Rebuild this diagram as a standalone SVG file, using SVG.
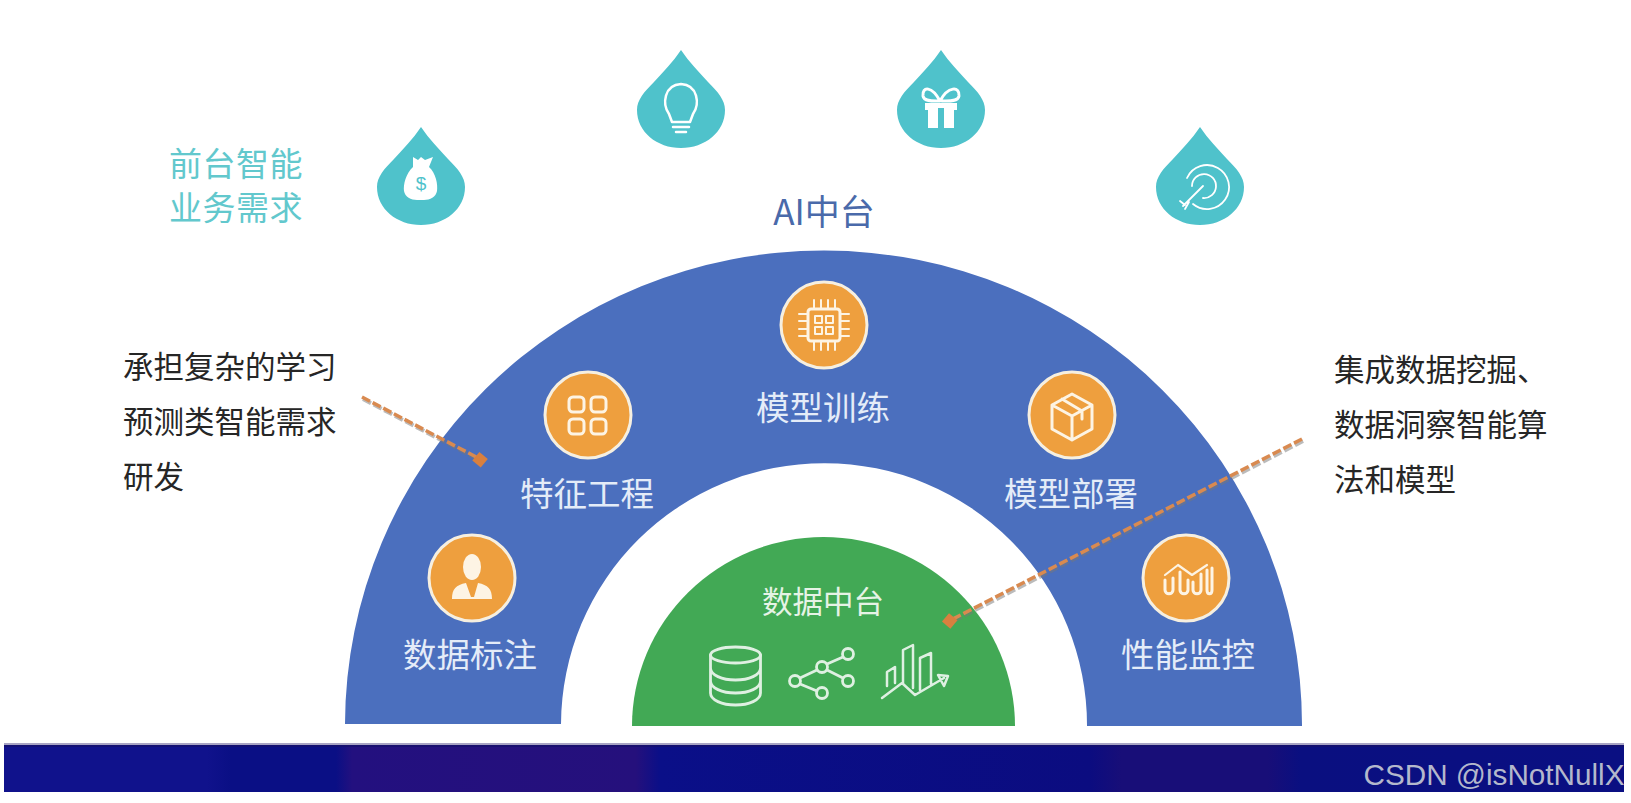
<svg xmlns="http://www.w3.org/2000/svg" width="1631" height="803" viewBox="0 0 1631 803">
<style>
text{font-family:"Noto Sans CJK SC","Noto Sans",sans-serif;text-anchor:middle}
.lbl{font-size:33.500px;fill:#e4ecf8}
.teal{font-size:33px;fill:#62c8cd;letter-spacing:0.5px}
.blk{font-size:30.500px;fill:#262626;text-anchor:start}
.w{fill:none;stroke:#fff;stroke-width:2.500;stroke-linecap:round;stroke-linejoin:round}
.wt{fill:none;stroke:#dff0e2;stroke-width:2.800;stroke-linecap:round;stroke-linejoin:round}
.o{fill:#ee9f3e;stroke:#f6efe0;stroke-width:3}
.oi{fill:none;stroke:#fdf4e4;stroke-width:3;stroke-linecap:round;stroke-linejoin:round}
.oif{fill:#fdf4e4}
.dash{fill:none;stroke:#d98a50;stroke-width:3.500;stroke-dasharray:9 3}
.dashs{fill:none;stroke:#777;stroke-opacity:.5;stroke-width:4;stroke-dasharray:9 3}
</style>
<defs>
<path id="drop" d="M0,0C8,12 18,22 27,32C37,42 44,50 44,60C44,82 24,98 0,98C-24,98 -44,82 -44,60C-44,50 -37,42 -27,32C-18,22 -8,12 0,0Z" fill="#4fc2cb"/>
<linearGradient id="band" x1="0" x2="1" y1="0" y2="0">
<stop offset="0" stop-color="#10128c"/><stop offset=".125" stop-color="#10128c"/><stop offset=".14" stop-color="#0a0f85"/><stop offset=".205" stop-color="#0a0f85"/><stop offset=".215" stop-color="#23107f"/><stop offset=".39" stop-color="#25107c"/><stop offset=".405" stop-color="#0a0f88"/><stop offset=".67" stop-color="#0b0c80"/><stop offset=".69" stop-color="#180e78"/><stop offset=".78" stop-color="#180e78"/><stop offset=".8" stop-color="#0a0f80"/><stop offset="1" stop-color="#0a0f82"/>
</linearGradient>
</defs>
<rect width="1631" height="803" fill="#fff"/>
<g id="band-strip"><rect x="4" y="743" width="1620" height="49" fill="url(#band)"/><rect x="4" y="743" width="1620" height="2" fill="#a8a4c4"/><rect x="4" y="745" width="1620" height="2" fill="#14106a" opacity=".7"/>
<text x="1494" y="785" style="font-family:'Liberation Sans',sans-serif;font-size:30px;fill:#b4b8cc" textLength="261" lengthAdjust="spacingAndGlyphs">CSDN @isNotNullX</text></g>

<g id="ai-platform"><path d="M345,724A478,474 0 0 1 1302,726L1087,726A262,261 0 0 0 561,724Z" fill="#4b6fbe"/>
<text x="824" y="225" style="font-size:35px;fill:#4a6aaa">AI中台</text></g>

<g id="data-platform"><path d="M632,726A191.500,189 0 0 1 1015,726Z" fill="#42a955"/>
<text x="823" y="613" style="font-size:30.500px;fill:#e6f3e6">数据中台</text>
<g id="icon-db" class="wt"><ellipse cx="735.500" cy="655" rx="25" ry="8"/><path d="M710.500,655V693C710.500,700 722,705 735.500,705S760.500,700 760.500,693V655M710.500,668C710.500,675 722,680 735.500,680S760.500,675 760.500,668M710.500,681C710.500,688 722,693 735.500,693S760.500,688 760.500,681"/></g>
<g id="icon-share" class="wt"><circle cx="822" cy="667" r="5.500"/><circle cx="848" cy="654" r="5.500"/><circle cx="848" cy="681" r="5.500"/><circle cx="795" cy="681" r="5.500"/><circle cx="822" cy="693" r="5.500"/><path d="M827,664L843,657M827,670L843,678M817,670L800,678M800,684L817,691"/></g>
<g id="icon-chart" class="wt" style="stroke-width:2.500"><path d="M882,698L902,683L915,695L944,678M887,686V672L895,667V683M903,683V650L913,645V688M920,690V658L931,653V684M938,675L948,676L944,686Z"/></g></g>

<g id="front-label"><text class="teal" x="236" y="176">前台智能</text><text class="teal" x="236" y="220">业务需求</text></g>
<g id="drop-money"><use href="#drop" x="421" y="127"/><path fill="#fff" d="M413,157L418,160L421,157L425,160L433,157L429,167C436,173 438,185 437,191C436,197 430,200 424,200H417C411,200 405,197 404,191C403,185 406,173 413,167Z"/><text x="421" y="190" style="font-family:'Liberation Sans',sans-serif;font-size:19px;fill:#4fc2cb">$</text></g>
<g id="drop-bulb"><use href="#drop" x="681" y="50"/><path class="w" d="M672,122L669,114C662,104 664,85 681,84C698,85 700,104 693,114L690,122ZM672,122H690M673,127H689M676,132H686"/></g>
<g id="drop-gift"><use href="#drop" x="941" y="50"/><path fill="#fff" d="M925,103H957V110H954V128H928V110H925Z"/><rect x="938" y="108" width="6" height="20" fill="#4fc2cb"/><path class="w" style="stroke-width:3" d="M940,101C932,86 922,86 923,96C924,102 934,101 940,101C948,86 960,86 959,96C958,102 948,101 942,101"/></g>
<g id="drop-target"><use href="#drop" x="1200" y="127"/><path class="w" style="stroke-width:1.800" d="M1187,178A22,22 0 1 1 1193,204M1192,186A12,12 0 1 1 1203,198M1203,186L1183,206M1180,201L1185,205M1185,209L1189,202"/></g>

<g id="node-train"><circle class="o" cx="824" cy="325" r="43"/><rect class="oi" x="808" y="309" width="32" height="32" rx="3"/><path class="oi" style="stroke-width:2" d="M814,300V309M821,300V309M828,300V309M835,300V309M814,341V350M821,341V350M828,341V350M835,341V350M799,314H808M799,321H808M799,329H808M799,336H808M840,314H849M840,321H849M840,329H849M840,336H849M815,316H822V323H815ZM826,316H833V323H826ZM815,327H822V334H815ZM826,327H833V334H826Z"/><text class="lbl" x="823" y="420">模型训练</text></g>
<g id="node-feature"><circle class="o" cx="588" cy="415" r="43"/><rect class="oi" x="569" y="397" width="15" height="15" rx="4"/><rect class="oi" x="591" y="397" width="15" height="15" rx="4"/><rect class="oi" x="569" y="419" width="15" height="15" rx="4"/><rect class="oi" x="591" y="419" width="15" height="15" rx="4"/><text class="lbl" x="587" y="506">特征工程</text></g>
<g id="node-deploy"><circle class="o" cx="1072" cy="415" r="43"/><path class="oi" d="M1072,394L1092,405V429L1072,440L1052,429V405ZM1052,405L1072,416L1092,405M1072,416V440M1062,399L1082,411V419"/><text class="lbl" x="1071" y="506">模型部署</text></g>
<g id="node-label"><circle class="o" cx="472" cy="578" r="43"/><ellipse class="oif" cx="472" cy="567" rx="9" ry="13"/><path class="oif" d="M452,599C452,589 456,585 466,583L471,597L474,597L478,583C488,585 492,589 492,599Z"/><text class="lbl" x="470" y="667">数据标注</text></g>
<g id="node-monitor"><circle class="o" cx="1186" cy="578" r="43"/><path class="oi" d="M1165,580V590C1165,595 1173,595 1173,590V578M1180,572V590C1180,595 1188,595 1188,590V580M1193,582V590C1193,595 1201,595 1201,590V574M1207,570V590C1207,595 1212,595 1212,590V568"/><path class="oi" style="stroke-width:2.200" d="M1165,575L1178,565L1192,575L1207,565"/><text class="lbl" x="1188" y="667">性能监控</text></g>

<g id="note-left"><text class="blk" x="123" y="378">承担复杂的学习</text><text class="blk" x="123" y="433">预测类智能需求</text><text class="blk" x="123" y="488">研发</text></g>
<g id="note-right"><text class="blk" x="1334" y="381">集成数据挖掘、</text><text class="blk" x="1334" y="436">数据洞察智能算</text><text class="blk" x="1334" y="491">法和模型</text></g>

<g id="connectors">
<path class="dashs" d="M363,399L481,461"/><path class="dash" d="M362,397L480,459"/><rect x="475" y="454" width="11" height="11" fill="#d9803f" transform="rotate(40 480 459)"/>
<path class="dashs" d="M1303,441L950,623"/><path class="dash" d="M1302,439L949,621"/><rect x="944" y="615" width="11" height="11" fill="#d9803f" transform="rotate(40 949 621)"/>
</g>
</svg>
